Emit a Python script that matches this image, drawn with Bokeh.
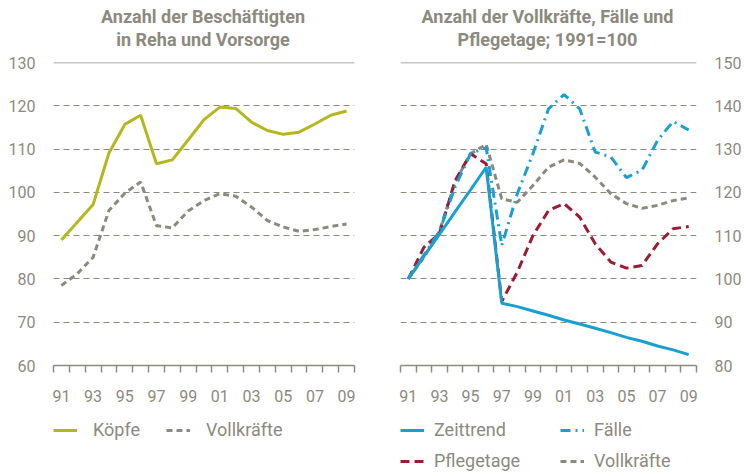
from bokeh.plotting import figure
from bokeh.models import Range1d, FixedTicker, Span, Legend, LegendItem, Div
from bokeh.layouts import row, column
from bokeh.embed import file_html
from bokeh.resources import INLINE

# ---------------- data ----------------
years = list(range(1991, 2010))
label_years = [1991, 1993, 1995, 1997, 1999, 2001, 2003, 2005, 2007, 2009]
year_labels = ["91", "93", "95", "97", "99", "01", "03", "05", "07", "09"]

koepfe = [89.0, 93.1, 97.2, 109.1, 115.7, 117.8, 106.6, 107.5, 112.1, 116.8,
          119.7, 119.4, 116.2, 114.3, 113.4, 113.9, 115.8, 117.8, 118.8]
vollkraefte_left = [78.5, 81.2, 85.0, 95.8, 99.8, 102.4, 92.3, 91.8, 95.7, 98.1,
                    99.7, 99.1, 96.6, 93.5, 92.0, 91.0, 91.4, 92.1, 92.7]

zeittrend = [100.0, 105.2, 110.3, 115.5, 120.6, 125.8, 94.4, 93.6, 92.6, 91.6,
             90.5, 89.6, 88.6, 87.6, 86.5, 85.6, 84.5, 83.6, 82.5]
faelle = [100.0, 105.5, 111.0, 121.2, 129.0, 130.3, 107.7, 119.7, 128.9, 139.3,
          142.6, 139.3, 129.3, 128.2, 123.4, 125.1, 132.0, 136.4, 134.4]
pflegetage = [100.0, 107.3, 110.5, 122.7, 128.9, 126.6, 94.8, 101.6, 110.0, 115.8,
              117.4, 114.3, 108.1, 103.9, 102.5, 103.1, 108.1, 111.6, 112.1]
vollkraefte_right = [100.0, 105.0, 111.0, 122.4, 128.9, 131.1, 118.5, 117.7, 121.6, 125.8,
                     127.5, 126.7, 123.5, 119.7, 117.4, 116.3, 117.0, 118.1, 118.7]

left_ticks = [60, 70, 80, 90, 100, 110, 120, 130]
right_ticks = [80, 90, 100, 110, 120, 130, 140, 150]

title_left = ["Anzahl der Beschäftigten", "in Reha und Vorsorge"]
title_right = ["Anzahl der Vollkräfte, Fälle und", "Pflegetage; 1991=100"]

# ---------------- style ----------------
FONT = "Roboto"
GREY = "#8c8a7e"
OLIVE = "#b4b81c"
BLUE = "#1aa0d0"
RED = "#9c1c34"
TICK_FS = "16px"

STY_KOEPFE = dict(line_color=OLIVE, line_width=3)
STY_VK = dict(line_color=GREY, line_width=3, line_dash="6 4")
STY_ZT = dict(line_color=BLUE, line_width=3)
STY_FA = dict(line_color=BLUE, line_width=3, line_dash="10 5 2 5")
STY_PT = dict(line_color=RED, line_width=3, line_dash="9 5")


def title_div(lines, frame_w, left, right):
    return Div(text="<br>".join(lines), width=frame_w, height=52,
               margin=(0, right, 0, left),
               styles={"text-align": "center", "font-family": FONT, "font-weight": "bold",
                       "font-size": "18px", "color": GREY, "line-height": "23px",
                       "position": "relative", "top": "5px"})


def base_fig(width, ymin, ymax, right_axis, border_left, border_right):
    p = figure(width=width, height=357, x_range=Range1d(1990.5, 2009.5),
               y_range=Range1d(ymin, ymax), output_backend="svg",
               toolbar_location=None, y_axis_location="right" if right_axis else "left",
               min_border_left=border_left, min_border_right=border_right,
               min_border_top=10, min_border_bottom=44)
    p.outline_line_color = None
    # x axis
    xa = p.xaxis[0]
    xa.ticker = FixedTicker(ticks=label_years,
                            minor_ticks=[y - 0.5 for y in years] + [years[-1] + 0.5])
    xa.major_label_overrides = {y: l for y, l in zip(label_years, year_labels)}
    xa.major_tick_out = 0
    xa.major_tick_in = 0
    xa.minor_tick_out = 7
    xa.minor_tick_in = 0
    xa.minor_tick_line_color = GREY
    xa.minor_tick_line_width = 1.5
    xa.axis_line_color = GREY
    xa.axis_line_width = 1.5
    xa.major_label_text_color = GREY
    xa.major_label_text_font = FONT
    xa.major_label_text_font_size = TICK_FS
    xa.major_label_standoff = 17
    # y axis
    ya = p.yaxis[0]
    ya.axis_line_color = None
    ya.major_tick_line_color = None
    ya.minor_tick_line_color = None
    ya.major_label_text_color = GREY
    ya.major_label_text_font = FONT
    ya.major_label_text_font_size = TICK_FS
    ya.major_label_standoff = 12
    # grid
    p.xgrid.grid_line_color = None
    p.ygrid.grid_line_color = GREY
    p.ygrid.grid_line_dash = "6 4"
    p.ygrid.grid_line_width = 1
    return p


def legend_fig(width, border_left):
    # the series are drawn again here only so that the legend has glyphs;
    # the x range keeps them out of view
    f = figure(width=width, height=62, x_range=Range1d(0, 1), y_range=Range1d(0, 1),
               output_backend="svg", toolbar_location=None,
               x_axis_type=None, y_axis_type=None,
               min_border_left=border_left, min_border_right=0,
               min_border_top=0, min_border_bottom=0)
    f.outline_line_color = None
    f.xgrid.visible = False
    f.ygrid.visible = False
    return f


def make_legend(items, spacing, label_width, standoff, loc):
    return Legend(items=items, orientation="horizontal", location=loc,
                  label_text_font=FONT, label_text_font_size="18px", label_text_color=GREY,
                  glyph_width=24, glyph_height=16, label_height=16,
                  label_standoff=standoff, spacing=spacing, label_width=label_width,
                  margin=0, padding=0, border_line_color=None, background_fill_alpha=0)


# ---------------- left chart ----------------
t1 = title_div(title_left, 302, 52, 18)
p1 = base_fig(372, 60, 130, False, 52, 18)
p1.yaxis[0].ticker = FixedTicker(ticks=left_ticks)
p1.ygrid.ticker = FixedTicker(ticks=left_ticks[1:-1])
p1.add_layout(Span(location=left_ticks[-1], dimension="width", line_color=GREY, line_width=1.5))
p1.line(years, koepfe, **STY_KOEPFE)
p1.line(years, vollkraefte_left, **STY_VK)

l1 = legend_fig(372, 53)
lk = l1.line(years, koepfe, **STY_KOEPFE)
lv = l1.line(years, vollkraefte_left, **STY_VK)
l1.add_layout(make_legend([LegendItem(label="Köpfe", renderers=[lk]),
                           LegendItem(label="Vollkräfte", renderers=[lv])], 26, 20, 16, (0, 31)))

# ---------------- right chart ----------------
t2 = title_div(title_right, 303, 24, 45)
p2 = base_fig(372, 80, 150, True, 24, 45)
p2.yaxis[0].ticker = FixedTicker(ticks=right_ticks)
p2.ygrid.ticker = FixedTicker(ticks=right_ticks[1:-1])
p2.add_layout(Span(location=right_ticks[-1], dimension="width", line_color=GREY, line_width=1.5))
p2.line(years, vollkraefte_right, **STY_VK)
p2.line(years, pflegetage, **STY_PT)
p2.line(years, faelle, **STY_FA)
p2.line(years, zeittrend, **STY_ZT)

l2 = legend_fig(372, 28)
a = l2.line(years, zeittrend, **STY_ZT)
b = l2.line(years, faelle, **STY_FA)
c = l2.line(years, pflegetage, **STY_PT)
d = l2.line(years, vollkraefte_right, **STY_VK)
l2.add_layout(make_legend([LegendItem(label="Zeittrend", renderers=[a]),
                           LegendItem(label="Fälle", renderers=[b])], 12, 114, 10, (0, 31)))
l2.add_layout(make_legend([LegendItem(label="Pflegetage", renderers=[c]),
                           LegendItem(label="Vollkräfte", renderers=[d])], 12, 114, 10, (0, 0)))

layout = row(column(t1, p1, l1), column(t2, p2, l2))
open("out.html", "w").write(file_html(layout, INLINE))
